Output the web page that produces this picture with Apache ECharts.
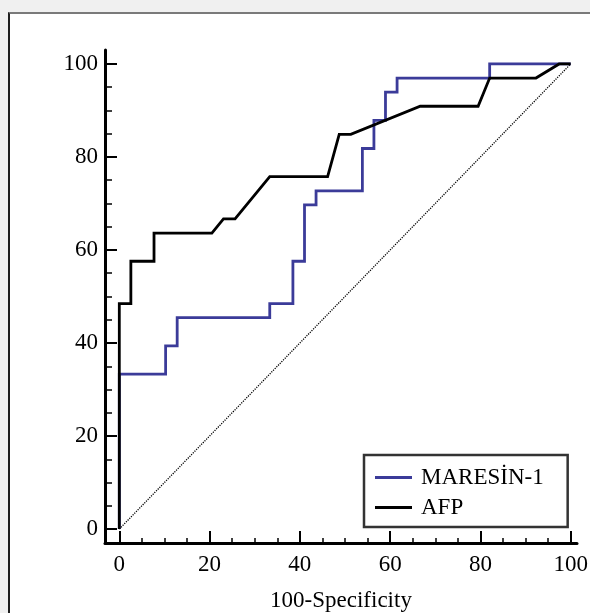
<!DOCTYPE html>
<html>
<head>
<meta charset="utf-8">
<script src="https://cdn.jsdelivr.net/npm/echarts@6/dist/echarts.min.js"></script>
<style>
  html, body { margin: 0; padding: 0; background: #f0f0f0; }
  #frame {
    position: absolute; left: 8px; top: 12px; width: 600px; height: 620px;
    background: #ffffff; border-top: 2px solid #7a7a7a; border-left: 2px solid #1e1e1e;
  }
  #chart { position: absolute; left: 0; top: 0; width: 590px; height: 613px; }
</style>
</head>
<body>
<div id="frame"></div>
<div id="chart"></div>
<script>
// ROC curves: 100-Specificity (x) vs Sensitivity (y)
const maresinX = [0, 0, 10.26, 10.26, 12.82, 12.82, 33.33, 33.33, 38.46, 38.46, 41.03, 41.03, 43.59, 43.59, 53.85, 53.85, 56.41, 56.41, 58.97, 58.97, 61.54, 61.54, 82.05, 82.05, 100];
const maresinY = [0, 33.33, 33.33, 39.39, 39.39, 45.45, 45.45, 48.48, 48.48, 57.58, 57.58, 69.70, 69.70, 72.73, 72.73, 81.82, 81.82, 87.88, 87.88, 93.94, 93.94, 96.97, 96.97, 100, 100];

const afpX = [0, 0, 2.56, 2.56, 7.69, 7.69, 20.51, 23.08, 25.64, 33.33, 46.15, 48.72, 51.28, 66.67, 79.49, 82.05, 92.31, 97.44, 100];
const afpY = [0, 48.48, 48.48, 57.58, 57.58, 63.64, 63.64, 66.67, 66.67, 75.76, 75.76, 84.85, 84.85, 90.91, 90.91, 96.97, 96.97, 100, 100];

const refX = [0, 100];
const refY = [0, 100];

const seriesNames = ['MARESİN-1', 'AFP'];
const majorTicks = [0, 20, 40, 60, 80, 100];
const minorTicks = [5, 10, 15, 25, 30, 35, 45, 50, 55, 65, 70, 75, 85, 90, 95];
const xTitle = '100-Specificity';

const FONT = 'Liberation Serif';
const FS = 23;
const pairs = (xs, ys) => xs.map((x, i) => [x, ys[i]]);

function majorAxis(min, max, extra) {
  return Object.assign({
    type: 'value', min: min, max: max,
    axisLine: { show: true, onZero: false, lineStyle: { color: '#000', width: 3 } },
    axisTick: { show: true, inside: true, length: 12, customValues: majorTicks, lineStyle: { color: '#000', width: 2 } },
    splitLine: { show: false }
  }, extra);
}
function minorAxis(min, max, len, pos) {
  return {
    type: 'value', min: min, max: max, position: pos,
    axisLine: { show: false, onZero: false },
    axisTick: { show: true, inside: true, length: len, customValues: minorTicks, lineStyle: { color: '#000', width: 1.5 } },
    axisLabel: { show: false },
    splitLine: { show: false }
  };
}

const chart = echarts.init(document.getElementById('chart'), null, { renderer: 'canvas' });
chart.setOption({
  animation: false,
  grid: { left: 105, right: 13, top: 50, bottom: 70, containLabel: false, outerBoundsMode: 'none' },
  xAxis: [
    majorAxis(-3.17, 101.4, {
      position: 'bottom',
      name: xTitle, nameLocation: 'middle', nameGap: 46,
      nameTextStyle: { color: '#000', fontFamily: FONT, fontSize: FS },
      axisLabel: { show: true, customValues: majorTicks, color: '#000', fontFamily: FONT, fontSize: FS, margin: 10 }
    }),
    minorAxis(-3.17, 101.4, 5, 'bottom')
  ],
  yAxis: [
    majorAxis(-3.0, 103.0, {
      position: 'left',
      axisLabel: { show: true, customValues: majorTicks, color: '#000', fontFamily: FONT, fontSize: FS, margin: 7 }
    }),
    minorAxis(-3.0, 103.0, 7, 'left')
  ],
  legend: {
    data: seriesNames,
    orient: 'vertical',
    left: 364, top: 455,
    padding: [11, 24, 8, 11],
    itemGap: 7,
    itemWidth: 37, itemHeight: 3,
    icon: 'rect',
    selectedMode: false,
    borderColor: '#333', borderWidth: 2.5, backgroundColor: '#fff',
    textStyle: { color: '#000', fontFamily: FONT, fontSize: FS, lineHeight: 22, padding: [0, 0, 0, 4] }
  },
  series: [
    {
      type: 'line', name: 'reference', data: pairs(refX, refY),
      showSymbol: false, symbol: 'none', silent: true,
      lineStyle: { color: '#000', width: 1.3, type: [1.2, 1.2] }
    },
    {
      type: 'line', name: seriesNames[0], data: pairs(maresinX, maresinY),
      showSymbol: false, symbol: 'none',
      itemStyle: { color: '#3b3b99' },
      lineStyle: { color: '#3b3b99', width: 2.8, join: 'miter' }
    },
    {
      type: 'line', name: seriesNames[1], data: pairs(afpX, afpY),
      showSymbol: false, symbol: 'none',
      itemStyle: { color: '#000' },
      lineStyle: { color: '#000', width: 2.8, join: 'miter' }
    }
  ]
});
</script>
</body>
</html>
